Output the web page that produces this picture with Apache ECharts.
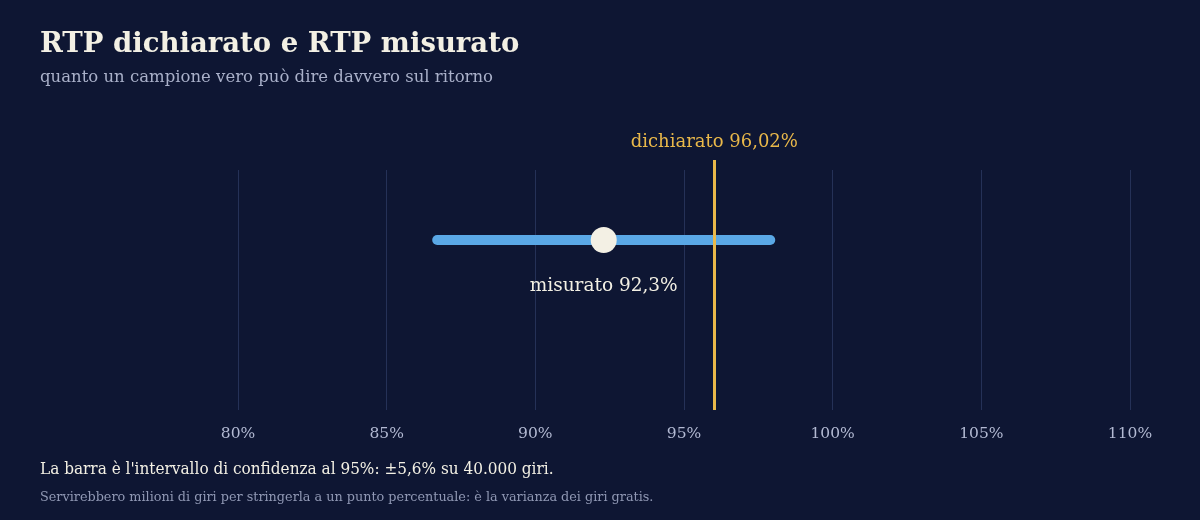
<!DOCTYPE html>
<html>
<head>
<meta charset="utf-8">
<script src="https://cdn.jsdelivr.net/npm/echarts@6/dist/echarts.min.js"></script>
<style>
    html, body { margin: 0; padding: 0; background: #0e1633; }
    #chart { width: 1200px; height: 520px; }
</style>
</head>
<body>
<div id="chart"></div>
<script>
/*
| Data
*/
const xTicks = [80, 85, 90, 95, 100, 105, 110];
const measuredRtp = 92.3;
const declaredRtp = 96.02;
const confidenceMargin = 5.6;
const intervalEnds = [measuredRtp - confidenceMargin, measuredRtp + confidenceMargin];

/*
| Style
*/
const serif = "Georgia, 'DejaVu Serif', serif";
const serifNarrow = "Georgia, 'DejaVu Serif Condensed', 'DejaVu Serif', serif";
const cream = '#f3f0e4';
const gold = '#e9b84a';
const blue = '#5aa8e6';
const rowY = 17;

const fmt = v => String(v).replace('.', ',');

const chart = echarts.init(document.getElementById('chart'));

// Shared x scale for the grid-lines grid and the data grid
const xScale = { type: 'value', min: xTicks[0], max: xTicks[xTicks.length - 1], interval: 5 };

chart.setOption({
    backgroundColor: '#0e1633',
    animation: false,
    textStyle: { fontFamily: serif },
    title: [
        {
            text: 'RTP dichiarato e RTP misurato',
            left: 40, top: 31, padding: 0,
            textStyle: { fontFamily: serif, fontSize: 27.5, fontWeight: 'bold', color: cream },
        },
        {
            text: 'quanto un campione vero può dire davvero sul ritorno',
            left: 40, top: 69, padding: 0,
            textStyle: { fontFamily: serif, fontSize: 16.5, fontWeight: 'normal', color: '#a9b0c9' },
        },
        {
            text: "La barra è l'intervallo di confidenza al 95%: ±" + fmt(confidenceMargin) + '% su 40.000 giri.',
            left: 40, top: 461, padding: 0,
            textStyle: { fontFamily: serifNarrow, fontSize: 17, fontWeight: 'normal', color: cream },
        },
        {
            text: 'Servirebbero milioni di giri per stringerla a un punto percentuale: è la varianza dei giri gratis.',
            left: 40, top: 491, padding: 0,
            textStyle: { fontFamily: serif, fontSize: 12.8, fontWeight: 'normal', color: '#9098b4' },
        },
    ],
    grid: [
        { left: 238, right: 70, top: 170, bottom: 110 },
        { left: 238, right: 70, top: 160, bottom: 110 },
    ],
    xAxis: [
        {
            ...xScale,
            gridIndex: 0,
            axisLine: { show: false },
            axisTick: { show: false },
            axisLabel: {
                formatter: '{value}%',
                color: '#b3bad3',
                fontFamily: serif,
                fontSize: 15.5,
                margin: 16,
            },
            splitLine: { show: true, lineStyle: { color: '#253157', width: 1 } },
        },
        { ...xScale, gridIndex: 1, show: false, splitLine: { show: false } },
    ],
    yAxis: [
        { type: 'value', gridIndex: 0, show: false, splitLine: { show: false } },
        { type: 'value', gridIndex: 1, min: 0, max: 25, show: false, splitLine: { show: false } },
    ],
    series: [
        {
            type: 'line',
            xAxisIndex: 1,
            yAxisIndex: 1,
            data: intervalEnds.map(x => [x, rowY]),
            symbol: 'none',
            lineStyle: { color: blue, width: 10, cap: 'round' },
            z: 2,
            markLine: {
                silent: true,
                symbol: ['none', 'none'],
                lineStyle: { color: gold, width: 3, type: 'solid' },
                label: {
                    show: true,
                    position: 'end',
                    distance: 9,
                    formatter: 'dichiarato ' + fmt(declaredRtp) + '%',
                    color: gold,
                    fontFamily: serif,
                    fontSize: 18,
                },
                data: [[
                    { coord: [declaredRtp, 0] },
                    { coord: [declaredRtp, 25] },
                ]],
                z: 5,
            },
        },
        {
            type: 'scatter',
            xAxisIndex: 1,
            yAxisIndex: 1,
            data: [[measuredRtp, rowY]],
            symbol: 'circle',
            symbolSize: 26,
            itemStyle: { color: cream, opacity: 1 },
            z: 4,
            label: {
                show: true,
                position: 'bottom',
                distance: 24,
                formatter: 'misurato ' + fmt(measuredRtp) + '%',
                color: cream,
                fontFamily: serif,
                fontSize: 18.5,
            },
        },
    ],
});
</script>
</body>
</html>
